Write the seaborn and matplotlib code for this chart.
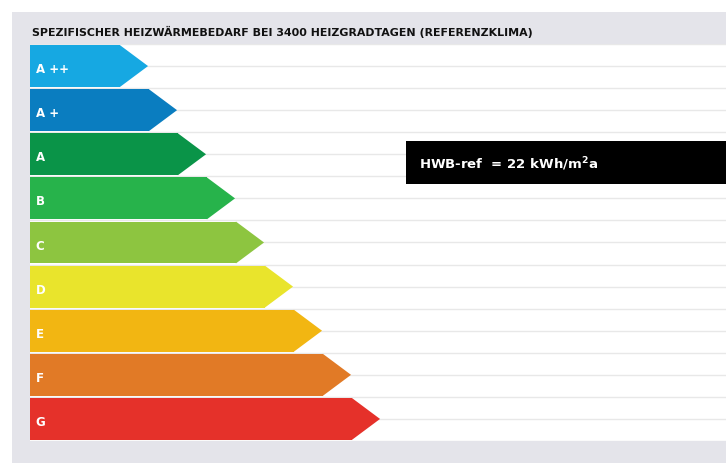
import numpy as np
import pandas as pd
import seaborn as sns
import matplotlib.pyplot as plt
from matplotlib.patches import Rectangle

classes = ["A ++", "A +", "A", "B", "C", "D", "E", "F", "G"]
lengths = [4.07, 5.07, 6.07, 7.07, 8.07, 9.07, 10.07, 11.07, 12.07]
colors = ["#16a8e2", "#0a7dc0", "#0a9448", "#27b34b", "#8dc540",
          "#e9e42c", "#f2b612", "#e17a26", "#e5312a"]
title = "SPEZIFISCHER HEIZWÄRMEBEDARF BEI 3400 HEIZGRADTAGEN (REFERENZKLIMA)"
hwb_value = 22

tip = 0.95
df = pd.DataFrame({"klasse": classes, "rect": np.array(lengths) - tip})

sns.set_style("white")
plt.rcParams["font.family"] = ["DejaVu Sans"]
fig = plt.figure(figsize=(7.26, 4.63), dpi=100)
W, H = 726, 463

# grey panel behind the chart
fig.patches.append(Rectangle((12 / W, 0), 1, (H - 12) / H, transform=fig.transFigure,
                             facecolor="#e4e4ea", edgecolor="none", zorder=-5))
fig.text(32 / W, 1 - 32 / H, title, fontsize=7.9, fontweight="bold",
         color="#111111", va="center", ha="left")

ax = fig.add_axes([30 / W, 22 / H, 1 - 30 / W, 397 / H])
ax.set_facecolor("white")

sns.barplot(data=df, x="rect", y="klasse", hue="klasse", palette=colors,
            width=0.95, legend=False, ax=ax, saturation=1, zorder=3,
            linewidth=0, edgecolor="none")

# arrow tips
for i, (L, c) in enumerate(zip(lengths, colors)):
    ax.fill([L - tip - 0.02, L, L - tip - 0.02], [i - 0.475, i, i + 0.475],
            color=c, lw=0, zorder=3)
    ax.text(0.2, i + 0.08, classes[i], color="white", fontsize=8.5,
            fontweight="bold", va="center", ha="left", zorder=4)

# faint guide lines
for y in np.arange(-0.5, len(classes), 0.5):
    ax.axhline(y, color="#e8e8e8", lw=1, zorder=1)

ax.set_xlim(0, 24)
ax.set_ylim(len(classes) - 0.5, -0.5)

# result box
ax.add_patch(Rectangle((12.97, 1.7), 20, 0.98, facecolor="black",
                       edgecolor="none", zorder=5))
ax.text(13.4, 2.22, "HWB-ref  = %d kWh/m$^{\\bf 2}$a" % hwb_value, color="white",
        fontsize=9.5, fontweight="bold", va="center", ha="left", zorder=6)

ax.set_xlabel("")
ax.set_ylabel("")
ax.set_xticks([])
ax.set_yticks([])
for s in ax.spines.values():
    s.set_visible(False)

plt.savefig("out.png", dpi=100)
